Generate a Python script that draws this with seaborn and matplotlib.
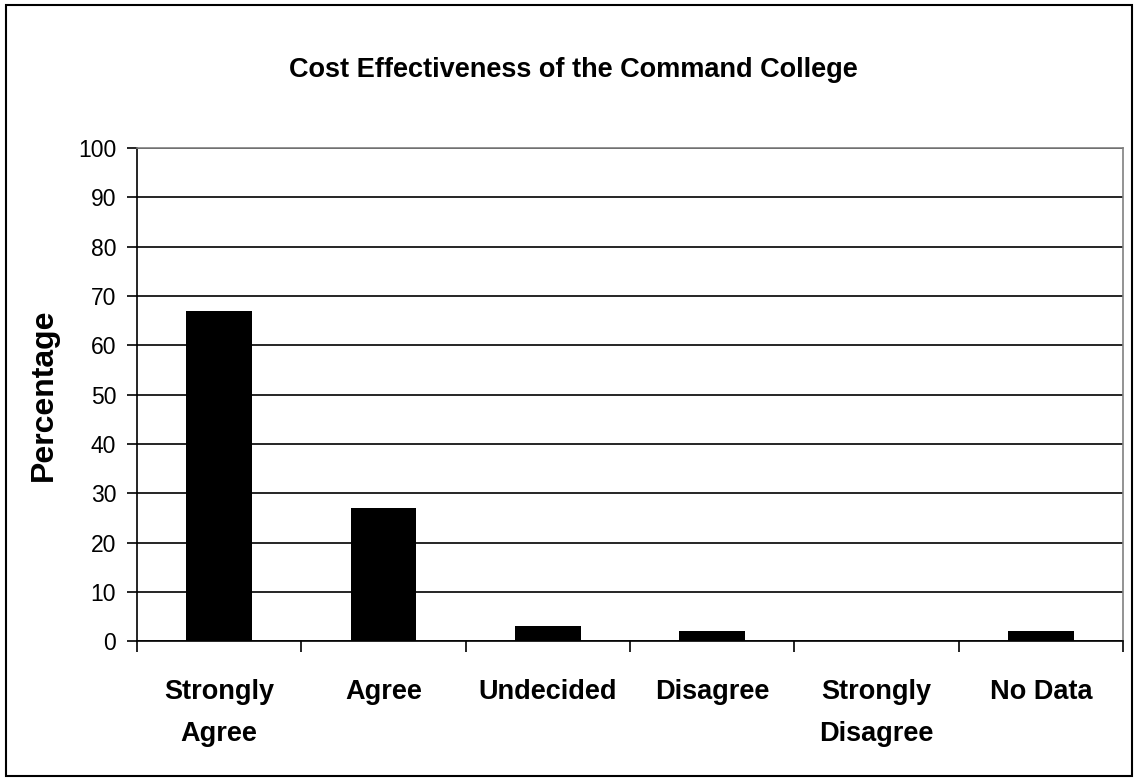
import matplotlib
matplotlib.use("Agg")
import matplotlib.pyplot as plt
import seaborn as sns
import pandas as pd
from matplotlib.patches import Rectangle

categories = ["Strongly\nAgree", "Agree", "Undecided", "Disagree", "Strongly\nDisagree", "No Data"]
percentages = [67, 27, 3, 2, 0, 2]
y_ticks = [0, 10, 20, 30, 40, 50, 60, 70, 80, 90, 100]

sns.set_theme(style="white")
plt.rcParams["font.family"] = ["Liberation Sans", "DejaVu Sans"]
plt.rcParams.update({
    "text.color": "black",
    "axes.labelcolor": "black",
    "xtick.color": "black",
    "ytick.color": "black",
    "xtick.bottom": True,
    "ytick.left": True,
})

df = pd.DataFrame({"Response": categories, "Percentage": percentages})

fig = plt.figure(figsize=(11.39, 7.81), dpi=100)
ax = fig.add_axes([0.1203, 0.179, 0.8657, 0.6315])

sns.barplot(data=df, x="Response", y="Percentage", color="black",
            width=0.4, saturation=1, linewidth=0, edgecolor="black", ax=ax, zorder=3)

ax.set_ylim(0, 100)
ax.set_xlim(-0.5, len(categories) - 0.5)
ax.set_yticks(y_ticks)
ax.yaxis.grid(True, color="black", linewidth=1.2, zorder=0)
ax.set_axisbelow(True)

for side in ["top", "right"]:
    ax.spines[side].set_color("#808080")
    ax.spines[side].set_linewidth(1.2)
for side in ["left", "bottom"]:
    ax.spines[side].set_color("black")
    ax.spines[side].set_linewidth(1.2)

# category ticks sit on the boundaries between bars
ax.set_xticks([i + 0.5 for i in range(-1, len(categories))], minor=True)
ax.tick_params(axis="x", which="major", length=0, pad=27, labelsize=19.5)
ax.tick_params(axis="x", which="minor", bottom=True, length=8, width=1.2,
               color="black", direction="out")
ax.tick_params(axis="y", left=True, length=7, width=1.2, color="black",
               direction="out", labelsize=16.5, pad=8)
for lbl in ax.get_xticklabels():
    lbl.set_fontweight("bold")
    lbl.set_linespacing(1.8)

ax.set_xlabel("")
ax.set_ylabel("Percentage", fontsize=23, fontweight="bold")
ax.yaxis.set_label_coords(-0.079, 0.5)
fig.text(0.503, 0.911, "Cost Effectiveness of the Command College",
         ha="center", va="center", fontsize=19.5, fontweight="bold")

# outer frame around the whole chart
fig.patches.append(Rectangle((0.0055, 0.0065), 0.988, 0.9865, transform=fig.transFigure,
                             fill=False, edgecolor="black", linewidth=1.5))

fig.savefig("out.png", dpi=100)
